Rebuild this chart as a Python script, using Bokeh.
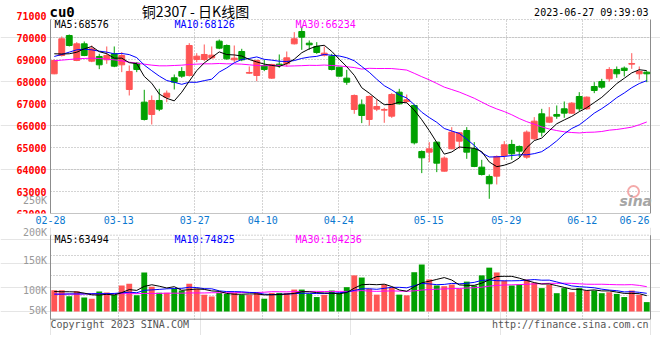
from bokeh.plotting import figure
from bokeh.models import Range1d, FixedTicker, ColumnDataSource, Grid
from bokeh.layouts import column
from bokeh.embed import file_html
from bokeh.resources import INLINE
from bokeh.core.properties import value

# ---------------- data ----------------
dates = ["02-28", "03-01", "03-02", "03-03", "03-06", "03-07", "03-08", "03-09", "03-10",
         "03-13", "03-14", "03-15", "03-16", "03-17", "03-20", "03-21", "03-22", "03-23", "03-24",
         "03-27", "03-28", "03-29", "03-30", "03-31", "04-03", "04-04", "04-06", "04-07",
         "04-10", "04-11", "04-12", "04-13", "04-14", "04-17", "04-18", "04-19", "04-20", "04-21",
         "04-24", "04-25", "04-26", "04-27", "04-28", "05-04", "05-05", "05-08", "05-09", "05-10",
         "05-11", "05-12", "05-15", "05-16", "05-17", "05-18", "05-19", "05-22", "05-23", "05-24",
         "05-25", "05-26", "05-29", "05-30", "05-31", "06-01", "06-02", "06-05", "06-06", "06-07",
         "06-08", "06-09", "06-12", "06-13", "06-14", "06-15", "06-16", "06-19", "06-20", "06-21",
         "06-26", "06-27"]

opens = [68358, 69192, 70102, 68965, 69723, 68934, 69147, 68995, 69268, 68767,
         67645, 68843, 67068, 66507, 67144, 67296, 68176, 68464, 68282, 69010,
         69010, 69086, 69844, 69647, 68995, 69374, 68388, 68282, 68737, 68161,
         68798, 68813, 69723, 70284, 69753, 69602, 69207, 69162, 68661, 68161,
         66735, 66947, 66280, 66750, 66704, 66431, 67523, 67099, 66917, 64823,
         64793, 65248, 63928, 64944, 65294, 65779, 64944, 64110, 63686, 63701,
         64641, 65142, 65051, 64565, 65400, 66537, 66158, 66507, 66765, 66568,
         67326, 66765, 67781, 68009, 68130, 68555, 68616, 68798, 68358, 68434]
highs = [69010, 70057, 70148, 69799, 69829, 69647, 69268, 69602, 69602, 69344,
         68737, 68889, 67630, 67372, 67675, 67599, 68328, 68661, 69753, 69298,
         69693, 69602, 69920, 69693, 69647, 69496, 68692, 68995, 68995, 68813,
         69238, 69374, 70254, 70512, 69875, 69799, 69602, 69268, 68661, 68540,
         67417, 67190, 67372, 67190, 66810, 67478, 67675, 67417, 66962, 64869,
         65248, 65248, 64596, 65931, 65703, 65931, 65248, 64444, 63776, 64641,
         65294, 65354, 65096, 65779, 66386, 66765, 66841, 66917, 67099, 67068,
         67523, 67326, 67978, 68130, 68661, 68692, 68692, 69298, 68692, 68479]
lows = [68340, 69147, 69602, 68934, 69162, 68889, 68570, 68813, 68661, 68434,
        67372, 68434, 66234, 66052, 66659, 67068, 67645, 68176, 68237, 68889,
        68934, 69040, 69480, 68995, 68889, 68934, 68358, 68024, 68479, 68130,
        68631, 68692, 69693, 69450, 69450, 69268, 69147, 68510, 68237, 67857,
        66537, 66113, 66007, 66659, 66128, 66355, 66962, 67023, 65142, 63837,
        64338, 63883, 63910, 64929, 64944, 64489, 64110, 63730, 62669, 63321,
        64444, 64444, 64565, 64489, 65354, 65506, 66113, 66310, 66355, 66537,
        66659, 66720, 67478, 67675, 68009, 68176, 68237, 68585, 68100, 67978]
closes = [68965, 69951, 69647, 69723, 69192, 69496, 68767, 69192, 68707, 69192,
          68464, 68555, 66280, 67144, 66750, 67478, 67978, 68252, 69647, 69162,
          69238, 69207, 69526, 69040, 69071, 68995, 68419, 68965, 68555, 68783,
          68737, 69086, 69951, 70027, 69678, 69329, 69298, 68555, 68252, 67978,
          67372, 66462, 67326, 66871, 66735, 67417, 66992, 67175, 65218, 64535,
          64944, 64292, 64520, 65703, 65673, 64793, 64140, 63776, 63352, 64596,
          65127, 64717, 64838, 65703, 66203, 65703, 66386, 66431, 66568, 67023,
          66765, 67296, 67599, 67751, 68555, 68358, 68510, 68828, 68464, 68358]
volumes = [88000, 88000, 63000, 84000, 58000, 53000, 83000, 79000, 69000, 108000,
           115000, 67000, 162000, 103000, 78000, 78000, 94000, 87000, 115000, 94000,
           69000, 62000, 77000, 73000, 77000, 69000, 69000, 77000, 53000, 77000,
           77000, 77000, 91000, 91000, 73000, 60000, 69000, 87000, 77000, 101000,
           150000, 141000, 94000, 70000, 112000, 101000, 70000, 67000, 163000, 195000,
           133000, 108000, 105000, 112000, 94000, 124000, 108000, 150000, 182000, 162000,
           128000, 108000, 112000, 133000, 119000, 97000, 111000, 76000, 97000, 80000,
           97000, 87000, 87000, 76000, 80000, 73000, 60000, 87000, 69000, 39000]

# moving-average values before enough visible history exists
ma5_head = [69270, 69260, 69270, 69340]
ma10_head = [69147, 69238, 69344, 69450, 69480, 69450, 69389, 69344, 69268]
ma30_head = [68949, 68980, 69010, 69040, 69056, 69071, 69056, 69025, 68995, 68949,
             68889, 68843, 68798, 68752, 68722, 68722, 68737, 68752, 68783, 68798,
             68813, 68813, 68828, 68813, 68813, 68798, 68767, 68737, 68722]
vma5_head = [83000, 82000, 82000, 81000]
vma10_head = [72000, 72000, 73000, 73000, 73000, 74000, 74000, 74000, 75000]
vma30_head = [72000, 72000, 72000, 72000, 73000, 73000, 73000, 73000, 73000, 74000,
              74000, 74000, 75000, 75000, 75000, 76000, 76000, 76000, 77000, 77000,
              77000, 78000, 78000, 78000, 78000, 79000, 79000, 79000, 80000]

price_labels = [62000, 63000, 64000, 65000, 66000, 67000, 68000, 69000, 70000, 71000]
date_labels = ["02-28", "03-13", "03-27", "04-10", "04-24", "05-15", "05-29", "06-12", "06-26"]
vol_labels = ["250K", "200K", "150K", "100K", "50K"]
legend_price = ["MA5:68576", "MA10:68126", "MA30:66234"]
legend_vol = ["MA5:63494", "MA10:74825", "MA30:104236"]

# ---------------- layout constants (page pixels) ----------------
W = 660
FX0, FX1 = 50, 650            # panel left/right
F1T, F1B = 19, 213            # price panel top/bottom
PTOP = 70830                  # price at the panel top
F2T, F2B, VBASE = 234.7, 318.7, 311
VK = 4150                     # volume per pixel
P2TOP, P2BOT = 227, 335       # volume figure frame
date_tick_px = [50, 118.3, 194.3, 262.3, 338.3, 428.3, 505.7, 581.7, 634]
vol_label_py = [200, 232.2, 260.3, 290.3, 310.3]
legend_px = [54, 174, 295]

n = len(closes)
P0 = price_labels[0]
def X(px):
    return (px - FX0) * n / (FX1 - FX0)
def Y1(py):
    return P0 + (F1B - py) * (PTOP - P0) / (F1B - F1T)
def Y2(py):
    return (VBASE - py) * VK
def tick(v):
    v = round(v, 3)
    return int(v) if v == int(v) else v

def rolling(vals, w, head):
    out = list(head)
    for i in range(len(head), len(vals)):
        out.append(sum(vals[i - w + 1:i + 1]) / w)
    return out

RED, GREEN = "#FF5555", "#00A000"
GRID, BORDER = "#a8a8a8", "#8c8c8c"
MONO = "DejaVu Sans Mono"

xc = [i + 0.5 for i in range(n)]
colors = [RED if c >= o else GREEN for o, c in zip(opens, closes)]
src = ColumnDataSource(dict(
    x=xc, h=highs, l=lows,
    top=[max(o, c) for o, c in zip(opens, closes)],
    bot=[min(o, c) for o, c in zip(opens, closes)],
    color=colors, vol=volumes))

def grid(p, dim, ticks, cross):
    g = Grid(dimension=dim, ticker=FixedTicker(ticks=ticks), grid_line_color=GRID,
             grid_line_dash="1 2", grid_line_width=1)
    try:
        g.cross_bounds = cross
        p.add_layout(g)
    except Exception:
        if dim == 0:
            p.segment(x0=ticks, y0=[cross[0]] * len(ticks), x1=ticks, y1=[cross[1]] * len(ticks),
                      line_color=GRID, line_dash="1 2")
        else:
            p.segment(x0=[cross[0]] * len(ticks), y0=ticks, x1=[cross[1]] * len(ticks), y1=ticks,
                      line_color=GRID, line_dash="1 2")

def border(p, ybot, ytop):
    p.segment(x0=[0, n, 0], y0=[ybot, ybot, ybot], x1=[0, n, n], y1=[ytop, ytop, ybot],
              line_color=BORDER, line_width=1)
    p.segment(x0=[0], y0=[ytop], x1=[n], y1=[ytop], line_color=GRID, line_dash="1 2")

def txt(p, xs, ys, texts, color, align="left", size="10px", font=MONO, style="normal"):
    p.text(x=xs, y=ys, text=texts, text_color=color, text_align=align,
           text_baseline="middle", text_font=value(font), text_font_size=value(size),
           text_font_style=style)

# ---------------- price figure ----------------
p1 = figure(frame_width=W, frame_height=F1B, output_backend="svg", toolbar_location=None,
            x_range=Range1d(X(0), X(W)), y_range=Range1d(Y1(F1B), Y1(0)),
            y_axis_location=None, min_border_left=0, min_border_right=0,
            min_border_top=0, min_border_bottom=14)
p1.outline_line_color = None
p1.xgrid.visible = False
grid(p1, 0, [tick(X(v)) for v in date_tick_px[:-1]], (P0, PTOP))
grid(p1, 1, price_labels[1:-1], (0, n))

xt = [tick(X(v)) for v in date_tick_px]
p1.xaxis.ticker = FixedTicker(ticks=xt)
p1.xaxis.major_label_overrides = {t: s for t, s in zip(xt, date_labels)}
p1.xaxis.axis_line_color = None
p1.xaxis.major_tick_out = 0
p1.xaxis.major_tick_in = 0
p1.xaxis.minor_tick_line_color = None
p1.xaxis.major_label_standoff = 2
p1.xaxis.major_label_text_color = "#0A78D0"
p1.xaxis.major_label_text_font = MONO
p1.xaxis.major_label_text_font_size = "10px"

border(p1, P0, PTOP)

# sina watermark (behind the marks)
p1.scatter([X(633)], [Y1(191)], marker="circle", size=11, fill_color=None,
           line_color="#F4AAAA", line_width=2)
txt(p1, [X(619)], [Y1(200)], ["sina"], "#A6A6A6", size="14px", font="DejaVu Sans",
    style="bold italic")

p1.segment(x0="x", y0="l", x1="x", y1="h", line_color="color", line_width=1, source=src)
p1.vbar(x="x", width=0.78, top="top", bottom="bot", fill_color="color", line_color="color",
        line_width=1, source=src)
p1.line(xc, rolling(closes, 30, ma30_head), line_color="#FF00FF", line_width=1)
p1.line(xc, rolling(closes, 10, ma10_head), line_color="#0000FF", line_width=1)
p1.line(xc, rolling(closes, 5, ma5_head), line_color="#000000", line_width=1)

# price labels at their values, and the volume label that sits in this margin
txt(p1, [X(46)] * len(price_labels), price_labels, [str(v) for v in price_labels],
    "#FF0000", align="right", style="bold")
txt(p1, [X(46.5)], [Y1(vol_label_py[0])], [vol_labels[0]], "#999999", align="right")

# header
txt(p1, [X(49)], [Y1(11.5)], ["cu0"], "#000000", size="14px", style="bold")
txt(p1, [X(195)], [Y1(10.5)], ["铜2307 - 日K线图"], "#000000", align="center",
    size="14px", font="Noto Sans CJK SC")
txt(p1, [X(648)], [Y1(12.2)], ["2023-06-27 09:39:03"], "#000000", align="right")
for px, s, c in zip(legend_px, legend_price, ["#000000", "#0000FF", "#FF00FF"]):
    txt(p1, [X(px)], [Y1(23.5)], [s], c)

# ---------------- volume figure ----------------
p2 = figure(frame_width=W, frame_height=P2BOT - P2TOP, output_backend="svg",
            toolbar_location=None,
            x_range=Range1d(X(0), X(W)), y_range=Range1d(Y2(P2BOT), Y2(P2TOP)),
            x_axis_location=None, y_axis_location=None, min_border_left=0,
            min_border_right=0, min_border_top=0, min_border_bottom=0)
p2.outline_line_color = None
grid(p2, 0, [tick(X(v)) for v in date_tick_px[:-1]], (Y2(F2B), Y2(F2T)))
grid(p2, 1, [Y2(v) for v in (255.3, 275.3, 295.3)], (0, n))

border(p2, Y2(F2B), Y2(F2T))

p2.vbar(x="x", width=0.78, top="vol", bottom=0, fill_color="color", line_color=None, source=src)
p2.line(xc, rolling(volumes, 30, vma30_head), line_color="#FF00FF", line_width=1)
p2.line(xc, rolling(volumes, 10, vma10_head), line_color="#0000FF", line_width=1)
p2.line(xc, rolling(volumes, 5, vma5_head), line_color="#000000", line_width=1)

txt(p2, [X(46.5)] * 4, [Y2(v) for v in vol_label_py[1:]], vol_labels[1:], "#999999",
    align="right")
for px, s, c in zip(legend_px, legend_vol, ["#000000", "#0000FF", "#FF00FF"]):
    txt(p2, [X(px)], [Y2(238.5)], [s], c)
txt(p2, [X(50)], [Y2(323.5)], ["Copyright 2023 SINA.COM"], "#555555")
txt(p2, [X(648)], [Y2(323.5)], ["http://finance.sina.com.cn"], "#555555", align="right")

layout = column(p1, p2, spacing=0)
open("out.html", "w").write(file_html(layout, INLINE))
